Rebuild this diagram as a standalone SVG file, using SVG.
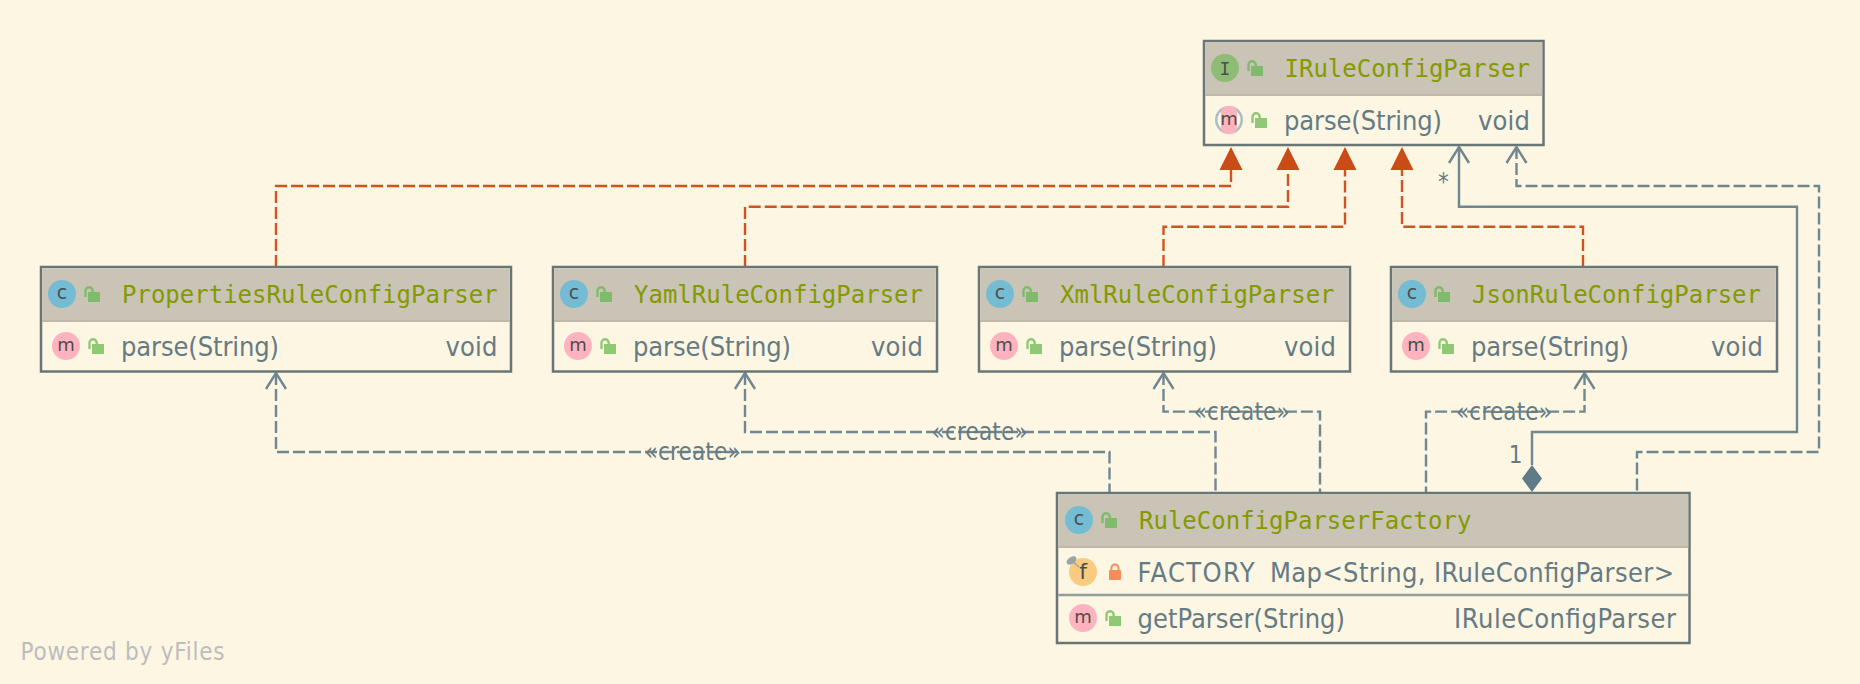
<svg xmlns="http://www.w3.org/2000/svg" width="1860" height="684" viewBox="0 0 1860 684">
<style>
.box{fill:#fdf6e3;stroke:#697676;stroke-width:2.500}
.head{fill:#c9c4b5}
.hsep{stroke:#bdb8a9;stroke-width:2}
.rsep{stroke:#8e9c9c;stroke-width:2.500}
.title{font:24px "DejaVu Sans Mono","Liberation Mono",monospace;fill:#859900}
.mem{font-family:"DejaVu Sans Condensed","DejaVu Sans","Liberation Sans",sans-serif;font-stretch:condensed;font-size:27px;fill:#657b83}
.ic{font:19px "DejaVu Sans","Liberation Sans",sans-serif;fill:#4d4d4d;text-anchor:middle}
.icm{font:18px "DejaVu Sans","Liberation Sans",sans-serif;fill:#4d4d4d;text-anchor:middle}
.cl{fill:#74bcd4}.me{fill:#ffb3bf}.in{fill:#8fbc74}.fi{fill:#f8cb80}
.lab{font-family:"DejaVu Sans Condensed","DejaVu Sans","Liberation Sans",sans-serif;font-stretch:condensed;font-size:24px;fill:#657b83;text-anchor:middle}
.impl{fill:none;stroke:#d2531f;stroke-width:2.400;stroke-dasharray:12 4}
.dep{fill:none;stroke:#6f8790;stroke-width:2.400;stroke-dasharray:12 4}
.asc{fill:none;stroke:#6f8790;stroke-width:2.400}
.open{fill:none;stroke:#6f8790;stroke-width:2.400}
.tri{fill:#cb4b16}
.dia{fill:#607b88}
.wm{font-family:"DejaVu Sans Condensed","DejaVu Sans","Liberation Sans",sans-serif;font-stretch:condensed;font-size:24px;fill:#bdbdbd}
.lh{fill:#7fbb6a;color:#7fbb6a}
.lr{fill:#90c974;color:#90c974}
</style>
<defs>
<g id="lo"><rect x="4" y="6" width="12" height="10"/><path d="M1.500 11V4.800A3.600 3.600 0 0 1 8.700 4.800V6" fill="none" stroke-width="2.400" stroke="currentColor"/></g>
<g id="lc"><rect x="0" y="6" width="12" height="10" rx="1"/><path d="M2.500 7V4A3.500 3.500 0 0 1 9.500 4V7" fill="none" stroke-width="2" stroke="currentColor"/></g>
<path id="op" d="M-10 16L0 0L10 16"/>
</defs>
<rect width="1860" height="684" fill="#fdf6e3"/>
<g id="connectors">
<path class="impl" d="M276 267V186H1231V170"/>
<path class="impl" d="M745 267V206.700H1288V170"/>
<path class="impl" d="M1163.500 267V226.700H1345V170"/>
<path class="impl" d="M1583 267V226.700H1402V170"/>
<polygon class="tri" points="1231,147 1242.500,170 1219.500,170"/>
<polygon class="tri" points="1288,147 1299.500,170 1276.500,170"/>
<polygon class="tri" points="1345,147 1356.500,170 1333.500,170"/>
<polygon class="tri" points="1402,147 1413.500,170 1390.500,170"/>
<path class="asc" d="M1459 147V206.700H1797V432H1532V465"/>
<use href="#op" class="open" x="1459" y="147"/>
<polygon class="dia" points="1532,465 1542,478.500 1532,492 1522,478.500"/>
<path class="dep" d="M1516.500 147V186H1819V452H1637V492"/>
<use href="#op" class="open" x="1516.500" y="147"/>
<path class="dep" d="M276 373V452H1109.500V492"/>
<use href="#op" class="open" x="276" y="373"/>
<path class="dep" d="M745 373V432H1215.500V492"/>
<use href="#op" class="open" x="745" y="373"/>
<path class="dep" d="M1163.500 373V411.600H1320V492"/>
<use href="#op" class="open" x="1163.500" y="373"/>
<path class="dep" d="M1584.500 373V411.600H1426V492"/>
<use href="#op" class="open" x="1584.500" y="373"/>
<text class="lab" x="692.600" y="460" textLength="96">«create»</text>
<text class="lab" x="979.600" y="440" textLength="96">«create»</text>
<text class="lab" x="1241.700" y="420" textLength="96">«create»</text>
<text class="lab" x="1504" y="420" textLength="96">«create»</text>
<text class="lab" x="1443.500" y="190">*</text>
<text class="lab" x="1515.500" y="463">1</text>
</g>
<g id="IRuleConfigParser">
<rect class="box" x="1204" y="41" width="339.500" height="104"/>
<rect class="head" x="1205.250" y="42.250" width="337" height="52.500"/>
<line class="hsep" x1="1205.250" x2="1542.250" y1="95" y2="95"/>
<circle class="in" cx="1225" cy="68" r="14"/>
<text x="1225" y="74.500" text-anchor="middle" style="font:18px 'DejaVu Sans Mono',monospace;fill:#4d4d4d">I</text>
<use href="#lo" class="lh" x="1247" y="60"/>
<text class="title" x="1284.500" y="76.500" textLength="245.500">IRuleConfigParser</text>
<circle cx="1229" cy="120" r="14" fill="#aebcc4"/>
<circle cx="1229" cy="120" r="11.500" fill="#fdf6e3"/>
<rect class="me" x="1221" y="106" width="16" height="28" rx="7"/>
<text class="icm" x="1229" y="125">m</text>
<use href="#lo" class="lr" x="1251" y="112"/>
<text class="mem" x="1284" y="130" textLength="158">parse(String)</text>
<text class="mem" x="1478" y="130" textLength="52">void</text>
</g>
<g id="PropertiesRuleConfigParser">
<rect class="box" x="41" y="267" width="470" height="104.500"/>
<rect class="head" x="42.250" y="268.250" width="467.500" height="52.500"/>
<line class="hsep" x1="42.250" x2="509.750" y1="321" y2="321"/>
<circle class="cl" cx="62" cy="294" r="14"/>
<text class="ic" x="62" y="299">c</text>
<use href="#lo" class="lh" x="84" y="286"/>
<text class="title" x="122" y="302.500">PropertiesRuleConfigParser</text>
<circle class="me" cx="66" cy="346" r="14"/>
<text class="icm" x="66" y="351">m</text>
<use href="#lo" class="lr" x="88" y="338"/>
<text class="mem" x="121" y="356" textLength="158">parse(String)</text>
<text class="mem" x="445.500" y="356" textLength="52">void</text>
</g>
<g id="YamlRuleConfigParser">
<rect class="box" x="553" y="267" width="384" height="104.500"/>
<rect class="head" x="554.250" y="268.250" width="381.500" height="52.500"/>
<line class="hsep" x1="554.250" x2="935.750" y1="321" y2="321"/>
<circle class="cl" cx="574" cy="294" r="14"/>
<text class="ic" x="574" y="299">c</text>
<use href="#lo" class="lh" x="596" y="286"/>
<text class="title" x="634" y="302.500">YamlRuleConfigParser</text>
<circle class="me" cx="578" cy="346" r="14"/>
<text class="icm" x="578" y="351">m</text>
<use href="#lo" class="lr" x="600" y="338"/>
<text class="mem" x="633" y="356" textLength="158">parse(String)</text>
<text class="mem" x="871" y="356" textLength="52">void</text>
</g>
<g id="XmlRuleConfigParser">
<rect class="box" x="979" y="267" width="371" height="104.500"/>
<rect class="head" x="980.250" y="268.250" width="368.500" height="52.500"/>
<line class="hsep" x1="980.250" x2="1348.750" y1="321" y2="321"/>
<circle class="cl" cx="1000" cy="294" r="14"/>
<text class="ic" x="1000" y="299">c</text>
<use href="#lo" class="lh" x="1022" y="286"/>
<text class="title" x="1060" y="302.500">XmlRuleConfigParser</text>
<circle class="me" cx="1004" cy="346" r="14"/>
<text class="icm" x="1004" y="351">m</text>
<use href="#lo" class="lr" x="1026" y="338"/>
<text class="mem" x="1059" y="356" textLength="158">parse(String)</text>
<text class="mem" x="1284" y="356" textLength="52">void</text>
</g>
<g id="JsonRuleConfigParser">
<rect class="box" x="1391" y="267" width="386" height="104.500"/>
<rect class="head" x="1392.250" y="268.250" width="383.500" height="52.500"/>
<line class="hsep" x1="1392.250" x2="1775.750" y1="321" y2="321"/>
<circle class="cl" cx="1412" cy="294" r="14"/>
<text class="ic" x="1412" y="299">c</text>
<use href="#lo" class="lh" x="1434" y="286"/>
<text class="title" x="1472" y="302.500">JsonRuleConfigParser</text>
<circle class="me" cx="1416" cy="346" r="14"/>
<text class="icm" x="1416" y="351">m</text>
<use href="#lo" class="lr" x="1438" y="338"/>
<text class="mem" x="1471" y="356" textLength="158">parse(String)</text>
<text class="mem" x="1711" y="356" textLength="52">void</text>
</g>
<g id="RuleConfigParserFactory">
<rect class="box" x="1057" y="493" width="632.500" height="150"/>
<rect class="head" x="1058.250" y="494.250" width="630" height="52.500"/>
<line class="hsep" x1="1058.250" x2="1688.250" y1="547" y2="547"/>
<line class="rsep" x1="1058.250" x2="1688.250" y1="595" y2="595"/>
<circle class="cl" cx="1079" cy="520" r="14"/>
<text class="ic" x="1079" y="525">c</text>
<use href="#lo" class="lh" x="1101" y="512"/>
<text class="title" x="1139" y="528.500">RuleConfigParserFactory</text>
<circle class="fi" cx="1083" cy="572" r="14"/>
<line x1="1072" y1="561" x2="1079" y2="567" stroke="#9aa5a8" stroke-width="1.500"/>
<ellipse cx="1071.500" cy="560.500" rx="5.500" ry="3.500" fill="#9aa5a8" transform="rotate(-35 1071.500 560.500)"/>
<text class="ic" x="1083" y="579" style="font-size:22px">f</text>
<use href="#lc" class="" x="1109" y="564" fill="#f78c5a" color="#f78c5a"/>
<text class="mem" x="1137.500" y="582" textLength="117">FACTORY</text>
<text class="mem" x="1270" y="582" textLength="404">Map&lt;String, IRuleConfigParser&gt;</text>
<circle class="me" cx="1083" cy="618" r="14"/>
<text class="icm" x="1083" y="623">m</text>
<use href="#lo" class="lr" x="1105" y="610"/>
<text class="mem" x="1137.500" y="628" textLength="207.500">getParser(String)</text>
<text class="mem" x="1454" y="628" textLength="222">IRuleConfigParser</text>
</g>
<text class="wm" x="20.500" y="660" textLength="204">Powered by yFiles</text>
</svg>
